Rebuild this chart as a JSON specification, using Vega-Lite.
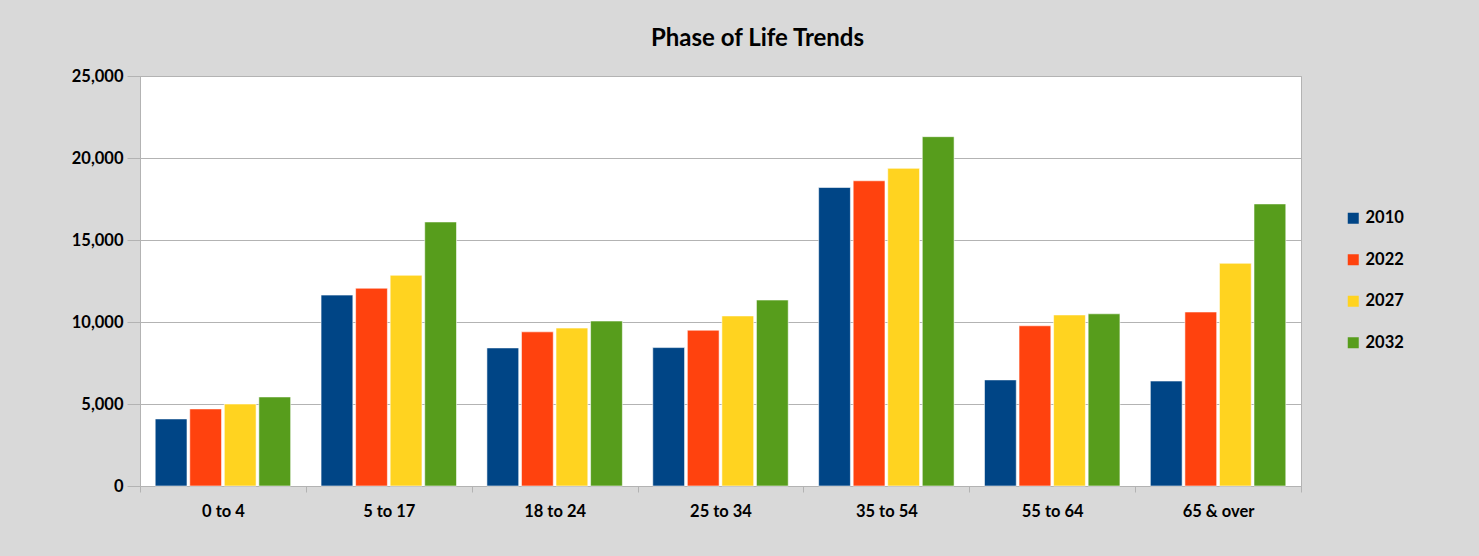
{
  "$schema": "https://vega.github.io/schema/vega-lite/v6.json",
  "autosize": "none",
  "width": 1161,
  "height": 410,
  "padding": {"left": 140, "top": 76, "right": 178, "bottom": 70},
  "background": "#d9d9d9",
  "title": {
    "text": "Phase of Life Trends",
    "font": "Lato",
    "fontSize": 24,
    "fontWeight": "bold",
    "color": "#000000",
    "anchor": "middle",
    "dx": 37,
    "offset": 17
  },
  "data": {
    "values": [
      {"age": "0 to 4", "year": "2010", "pop": 4090},
      {"age": "0 to 4", "year": "2022", "pop": 4700},
      {"age": "0 to 4", "year": "2027", "pop": 5000},
      {"age": "0 to 4", "year": "2032", "pop": 5430},
      {"age": "5 to 17", "year": "2010", "pop": 11640},
      {"age": "5 to 17", "year": "2022", "pop": 12060},
      {"age": "5 to 17", "year": "2027", "pop": 12850},
      {"age": "5 to 17", "year": "2032", "pop": 16100},
      {"age": "18 to 24", "year": "2010", "pop": 8420},
      {"age": "18 to 24", "year": "2022", "pop": 9400},
      {"age": "18 to 24", "year": "2027", "pop": 9630},
      {"age": "18 to 24", "year": "2032", "pop": 10060},
      {"age": "25 to 34", "year": "2010", "pop": 8440},
      {"age": "25 to 34", "year": "2022", "pop": 9500},
      {"age": "25 to 34", "year": "2027", "pop": 10370},
      {"age": "25 to 34", "year": "2032", "pop": 11340},
      {"age": "35 to 54", "year": "2010", "pop": 18200},
      {"age": "35 to 54", "year": "2022", "pop": 18610},
      {"age": "35 to 54", "year": "2027", "pop": 19370},
      {"age": "35 to 54", "year": "2032", "pop": 21300},
      {"age": "55 to 64", "year": "2010", "pop": 6470},
      {"age": "55 to 64", "year": "2022", "pop": 9770},
      {"age": "55 to 64", "year": "2027", "pop": 10430},
      {"age": "55 to 64", "year": "2032", "pop": 10500},
      {"age": "65 & over", "year": "2010", "pop": 6400},
      {"age": "65 & over", "year": "2022", "pop": 10610},
      {"age": "65 & over", "year": "2027", "pop": 13580},
      {"age": "65 & over", "year": "2032", "pop": 17200}
    ]
  },
  "mark": {"type": "bar", "stroke": "#ffffff", "strokeWidth": 0.8, "strokeOpacity": 0.7},
  "encoding": {
    "x": {
      "field": "age",
      "type": "nominal",
      "sort": null,
      "title": null,
      "scale": {"paddingInner": 0, "paddingOuter": 0},
      "axis": {
        "labelAngle": 0,
        "labelFont": "Lato",
        "labelFontSize": 16.5,
        "labelFontWeight": "bold",
        "labelColor": "#000000",
        "labelPadding": 11,
        "tickBand": "extent",
        "tickSize": 6,
        "tickColor": "#b3b3b3",
        "domainColor": "#b3b3b3",
        "domainWidth": 1,
        "tickWidth": 1
      }
    },
    "xOffset": {
      "field": "year",
      "type": "nominal",
      "scale": {"paddingInner": 0.08, "paddingOuter": 0.44}
    },
    "y": {
      "field": "pop",
      "type": "quantitative",
      "title": null,
      "scale": {"domain": [0, 25000], "nice": false},
      "axis": {
        "values": [0, 5000, 10000, 15000, 20000, 25000],
        "format": ",d",
        "labelFont": "Lato",
        "labelFontSize": 16.5,
        "labelFontWeight": "bold",
        "labelColor": "#000000",
        "labelPadding": 4,
        "tickSize": 13,
        "tickColor": "#b3b3b3",
        "domainColor": "#b3b3b3",
        "gridColor": "#b3b3b3",
        "grid": true
      }
    },
    "color": {
      "field": "year",
      "type": "nominal",
      "title": null,
      "scale": {
        "domain": ["2010", "2022", "2027", "2032"],
        "range": ["#004586", "#ff420e", "#ffd320", "#579d1c"]
      },
      "legend": {
        "orient": "none",
        "legendX": 1205,
        "legendY": 134,
        "symbolType": "square",
        "symbolSize": 121,
        "symbolStrokeWidth": 0,
        "labelFont": "Lato",
        "labelFontSize": 16.5,
        "labelFontWeight": "bold",
        "labelColor": "#000000",
        "rowPadding": 24.5,
        "labelOffset": 4
      }
    }
  },
  "config": {
    "view": {"stroke": "#b3b3b3", "fill": "#ffffff"},
    "axis": {"gridWidth": 1}
  }
}
